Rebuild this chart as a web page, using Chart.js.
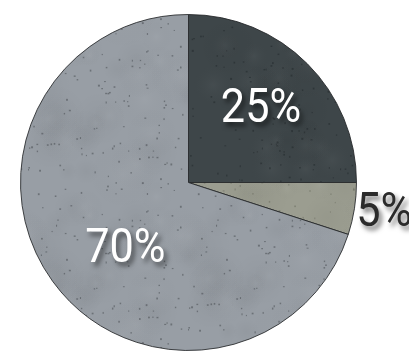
<!DOCTYPE html>
<html>
<head>
<meta charset="utf-8">
<script src="https://cdn.jsdelivr.net/npm/chart.js@4.4.0/dist/chart.umd.min.js"></script>
<style>
  html, body { margin: 0; padding: 0; background: #fff; }
  #wrap { width: 409px; height: 355px; }
</style>
</head>
<body>
<div id="wrap"><canvas id="pie" width="409" height="355"></canvas></div>
<script>
// data
const labels = ['Slate', 'Sage', 'Concrete'];
const shares = [25, 5, 70];
const labelTexts = shares.map(v => v + '%');

// look of each slice
const baseColors = ['#3e4649', '#9b9d90', '#989ea5'];
const speckColors = ['rgba(20,25,28,0.35)', 'rgba(70,72,60,0.3)', 'rgba(55,60,65,0.45)'];
const labelColors = ['#ffffff', '#2b2b2b', '#ffffff'];
const labelRadius = [0.61, 1.18, 0.55];
const labelTurn = [0, 0, -0.19]; // radians, nudges the 70% label

// stone-like fill: base colour + soft blotches + specks (fixed seed, same every run)
function concrete(base, speck, seed) {
  const N = 160;
  const c = document.createElement('canvas');
  c.width = N; c.height = N;
  const g = c.getContext('2d');
  g.fillStyle = base;
  g.fillRect(0, 0, N, N);
  let s = seed;
  const rnd = () => { s = (s * 16807) % 2147483647; return s / 2147483647; };
  for (let i = 0; i < 30; i++) {
    const x = rnd() * N, y = rnd() * N, rad = 10 + rnd() * 24;
    const light = rnd() < 0.5;
    const grad = g.createRadialGradient(0, 0, 0, 0, 0, rad);
    grad.addColorStop(0, light ? 'rgba(255,255,255,0.035)' : 'rgba(0,0,0,0.03)');
    grad.addColorStop(1, 'rgba(0,0,0,0)');
    // draw with wrap so the tile has no seams
    for (const dx of [-N, 0, N]) for (const dy of [-N, 0, N]) {
      g.save();
      g.translate(x + dx, y + dy);
      g.fillStyle = grad;
      g.beginPath();
      g.arc(0, 0, rad, 0, Math.PI * 2);
      g.fill();
      g.restore();
    }
  }
  g.fillStyle = speck;
  for (let i = 0; i < 120; i++) {
    g.fillRect(rnd() * N, rnd() * N, 1 + rnd(), 1 + rnd());
  }
  return g.createPattern(c, 'repeat');
}

const fills = baseColors.map((c, i) => concrete(c, speckColors[i], 7 + i * 131));

const sliceLabels = {
  id: 'sliceLabels',
  afterDatasetsDraw(chart) {
    const ctx = chart.ctx;
    const meta = chart.getDatasetMeta(0);
    meta.data.forEach((arc, i) => {
      const p = arc.getProps(['x', 'y', 'startAngle', 'endAngle', 'outerRadius'], true);
      const a = (p.startAngle + p.endAngle) / 2 + labelTurn[i];
      const r = p.outerRadius * labelRadius[i];
      ctx.save();
      ctx.translate(p.x + Math.cos(a) * r, p.y + Math.sin(a) * r);
      ctx.scale(0.9, 1);
      ctx.font = '48px Roboto, "Open Sans", sans-serif';
      ctx.textAlign = 'center';
      ctx.textBaseline = 'middle';
      ctx.shadowColor = 'rgba(0,0,0,0.55)';
      ctx.shadowOffsetX = 3;
      ctx.shadowOffsetY = 4;
      ctx.shadowBlur = 5;
      ctx.fillStyle = labelColors[i];
      ctx.fillText(labelTexts[i], 0, 0);
      ctx.restore();
    });
  }
};

new Chart(document.getElementById('pie'), {
  type: 'pie',
  data: {
    labels: labels,
    datasets: [{
      data: shares,
      backgroundColor: fills,
      borderColor: 'rgba(35,38,40,0.85)',
      borderWidth: 1,
    }],
  },
  options: {
    responsive: false,
    animation: false,
    layout: { padding: { left: 20, right: 52, top: 12, bottom: 2 } },
    plugins: {
      legend: { display: false },
      tooltip: { enabled: false },
    },
  },
  plugins: [sliceLabels],
});
</script>
</body>
</html>
